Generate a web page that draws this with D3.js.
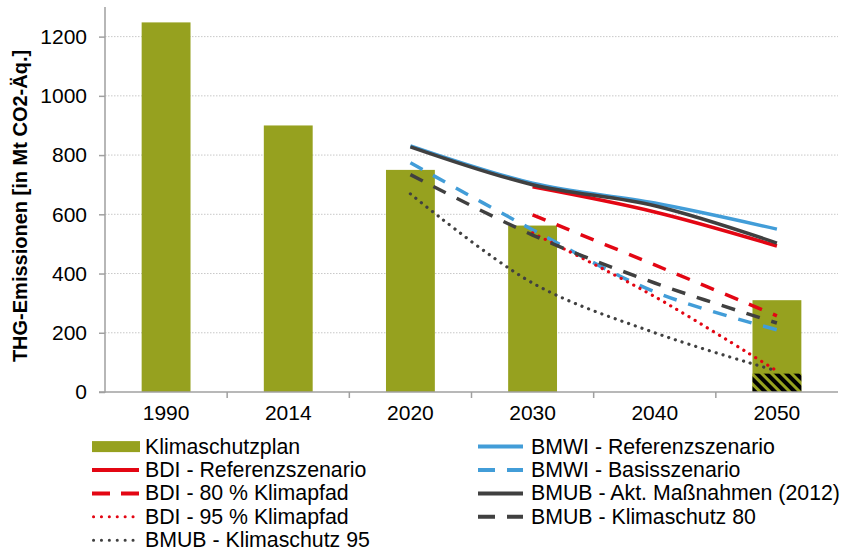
<!DOCTYPE html>
<html><head><meta charset="utf-8">
<script src="https://cdn.jsdelivr.net/npm/d3@7"></script>
<style>body{margin:0;background:#fff}svg text{font-family:"Liberation Sans",Arial,sans-serif}</style>
</head><body>
<svg id="c" width="845" height="552"></svg>
<script>
const categories = ["1990","2014","2020","2030","2040","2050"];
const klimaschutzplan = [1248, 900, 750, 562, null, 310];
const klimaschutzplanRest = [null, null, null, null, null, 62];
const bmwiReferenz = [null, null, 831, 705, 638, 550];
const bmwiBasis = [null, null, 774, 548, 338, 210];
const bdiReferenz = [null, null, null, 693, 608, 493];
const bdi80 = [null, null, null, 598, 429, 257];
const bdi95 = [null, null, null, 537, 322, 71];
const bmubAkt = [null, null, 828, 700, 629, 503];
const bmubKs80 = [null, null, 734, 530, 368, 233];
const bmubKs95 = [null, null, 669, 368, 200, 71];
const yTicks = [0, 200, 400, 600, 800, 1000, 1200];

const olive = "#96A11F", red = "#E30613", blue = "#429DD8", dark = "#404040";
const series = [
  {name: "BMWI - Referenzszenario", data: bmwiReferenz, color: blue, dash: null},
  {name: "BMWI - Basisszenario", data: bmwiBasis, color: blue, dash: "14,12"},
  {name: "BDI - Referenzszenario", data: bdiReferenz, color: red, dash: null},
  {name: "BDI - 80 % Klimapfad", data: bdi80, color: red, dash: "14,12"},
  {name: "BDI - 95 % Klimapfad", data: bdi95, color: red, dash: "0.1,7", dot: true},
  {name: "BMUB - Akt. Maßnahmen (2012)", data: bmubAkt, color: dark, dash: null},
  {name: "BMUB - Klimaschutz 80", data: bmubKs80, color: dark, dash: "14,12"},
  {name: "BMUB - Klimaschutz 95", data: bmubKs95, color: dark, dash: "0.1,7", dot: true}
];

const FONT = "Liberation Sans, Arial, sans-serif";
const svg = d3.select("#c");
const L = 105, R = 838, T = 7, B = 392;
const x = d3.scaleBand().domain(categories).range([L, R]).paddingInner(0.6).paddingOuter(0.3);
const xc = d => x(d) + x.bandwidth() / 2;
const y = d3.scaleLinear().domain([0, 1300]).range([B, T]);

// pattern
const defs = svg.append("defs");
const pat = defs.append("pattern").attr("id", "hatch").attr("patternUnits", "userSpaceOnUse")
  .attr("width", 7).attr("height", 7).attr("patternTransform", "rotate(-45)");
pat.append("rect").attr("width", 7).attr("height", 7).attr("fill", "#000");
pat.append("rect").attr("width", 3).attr("height", 7).attr("fill", olive);

// grid
svg.append("g").selectAll("line").data(yTicks.filter(v => v > 0)).join("line")
  .attr("x1", L).attr("x2", R).attr("y1", d => y(d)).attr("y2", d => y(d))
  .attr("stroke", "#c8c8c8").attr("stroke-width", 1).attr("stroke-dasharray", "1.5,1.5");

// bars
svg.append("g").selectAll("rect").data(categories.map((c, i) => ({c, v: klimaschutzplan[i]})).filter(d => d.v != null))
  .join("rect").attr("x", d => x(d.c)).attr("width", x.bandwidth())
  .attr("y", d => y(d.v)).attr("height", d => y(0) - y(d.v)).attr("fill", olive);
svg.append("g").selectAll("rect").data(categories.map((c, i) => ({c, v: klimaschutzplanRest[i]})).filter(d => d.v != null))
  .join("rect").attr("x", d => x(d.c)).attr("width", x.bandwidth())
  .attr("y", d => y(d.v)).attr("height", d => y(0) - y(d.v)).attr("fill", "url(#hatch)");

// lines
const line = d3.line().defined(d => d.v != null).x(d => xc(d.c)).y(d => y(d.v)).curve(d3.curveCatmullRom.alpha(0.5));
series.forEach(s => {
  svg.append("path").datum(categories.map((c, i) => ({c, v: s.data[i]})).filter(d => d.v != null))
    .attr("d", line).attr("fill", "none").attr("stroke", s.color).attr("stroke-width", s.dot ? 3.2 : 3.5)
    .attr("stroke-dasharray", s.dash).attr("stroke-linecap", s.dot ? "round" : "butt");
});

// axes
const ya = svg.append("g").attr("transform", `translate(${L},0)`)
  .call(d3.axisLeft(y).tickValues(yTicks).tickFormat(d3.format("d")).tickSize(6).tickPadding(12));
ya.attr("font-family", FONT).attr("font-size", 21);
ya.select(".domain").attr("stroke", "#a0a0a0").attr("stroke-width", 1.5).attr("d", `M-6,${B}H0V${T}`);
ya.selectAll(".tick line").attr("stroke", "#a0a0a0").attr("stroke-width", 1.5);
ya.selectAll(".tick text").attr("fill", "#000");

const xa = svg.append("g").attr("transform", `translate(0,${B})`)
  .call(d3.axisBottom(x).tickSize(0).tickPadding(13));
xa.attr("font-family", FONT).attr("font-size", 21);
xa.select(".domain").attr("stroke", "#a0a0a0").attr("stroke-width", 1.5).attr("d", `M${L},0H${R}`);
xa.selectAll(".tick text").attr("fill", "#000");
const step = x.step();
svg.append("g").selectAll("line").data(categories.slice(1)).join("line")
  .attr("x1", d => xc(d) - step / 2).attr("x2", d => xc(d) - step / 2)
  .attr("y1", B).attr("y2", B + 6).attr("stroke", "#a0a0a0").attr("stroke-width", 1.5);

// y title
svg.append("text").attr("transform", `translate(27,206) rotate(-90)`)
  .attr("text-anchor", "middle").attr("font-size", 20).attr("font-weight", "bold").attr("font-family", FONT)
  .text("THG-Emissionen [in Mt CO2-Äq.]");

// legend
const order = [
  {item: {name: "Klimaschutzplan", bar: true}, col: 0, row: 0},
  {item: series[0], col: 1, row: 0},
  {item: series[2], col: 0, row: 1},
  {item: series[1], col: 1, row: 1},
  {item: series[3], col: 0, row: 2},
  {item: series[5], col: 1, row: 2},
  {item: series[4], col: 0, row: 3},
  {item: series[6], col: 1, row: 3},
  {item: series[7], col: 0, row: 4}
];
const lg = svg.append("g");
order.forEach(o => {
  const x0 = o.col === 0 ? 92 : 478;
  const sw = o.col === 0 ? 47 : 45;
  const tx = o.col === 0 ? 145 : 531;
  const yy = 446.6 + o.row * 23.4;
  const g = lg.append("g");
  if (o.item.bar) {
    g.append("rect").attr("x", x0).attr("y", yy - 5.5).attr("width", 48).attr("height", 11).attr("fill", olive);
  } else {
    g.append("line").attr("x1", x0 + (o.item.dot ? 1.5 : 0)).attr("x2", x0 + sw).attr("y1", yy).attr("y2", yy)
      .attr("stroke", o.item.color).attr("stroke-width", o.item.dot ? 3 : 4)
      .attr("stroke-dasharray", o.item.dash ? (o.item.dot ? "0.1,7.8" : (o.col === 0 ? "18,11" : "17,12")) : null)
      .attr("stroke-linecap", o.item.dot ? "round" : "butt");
  }
  g.append("text").attr("x", tx).attr("y", yy + 7).attr("font-size", 21.3).attr("font-family", FONT).text(o.item.name);
});
</script>
</body></html>
